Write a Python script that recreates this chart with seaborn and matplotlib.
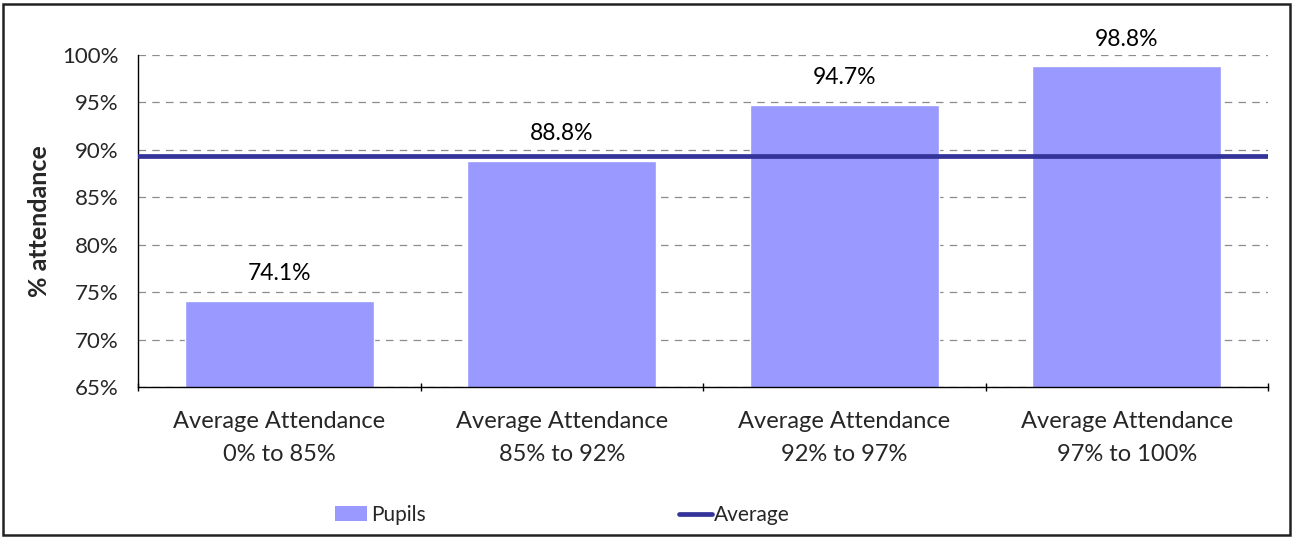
import matplotlib
matplotlib.use("Agg")
import matplotlib.pyplot as plt
import matplotlib.ticker as mticker
from matplotlib.lines import Line2D
from matplotlib.patches import Patch, Rectangle
import pandas as pd
import seaborn as sns

# data
categories = [
    "Average Attendance\n0% to 85%",
    "Average Attendance\n85% to 92%",
    "Average Attendance\n92% to 97%",
    "Average Attendance\n97% to 100%",
]
pupils = [74.1, 88.8, 94.7, 98.8]
average = 89.3
y_ticks = [65, 70, 75, 80, 85, 90, 95, 100]

bar_color = "#9999FF"
line_color = "#333399"

sns.set_theme(style="white")
plt.rcParams["font.family"] = ["Lato", "DejaVu Sans"]

df = pd.DataFrame({"category": categories, "pupils": pupils})

fig = plt.figure(figsize=(12.94, 5.38), dpi=100)
ax = fig.add_axes([138 / 1294, 1 - 387 / 538, (1268 - 138) / 1294, (387 - 55) / 538])

sns.barplot(data=df, x="category", y="pupils", color=bar_color, width=0.67,
            saturation=1, ax=ax, zorder=2)
ax.axhline(average, color=line_color, linewidth=3.4, zorder=3)

for i, v in enumerate(pupils):
    ax.text(i, v + 2.2, f"{v:.1f}%", ha="center", va="baseline", fontsize=16.5, color="black")

ax.set_ylim(65, 100)
ax.set_xlim(-0.5, len(categories) - 0.5)
ax.set_yticks(y_ticks)
ax.yaxis.set_major_formatter(mticker.FuncFormatter(lambda v, p: f"{v:.0f}%"))
ax.yaxis.grid(True, linestyle=(0, (6, 5)), color="#8c8c8c", linewidth=0.9)
ax.set_axisbelow(True)

# category boundary ticks on the x axis
ax.set_xticks([i for i in range(len(categories))])
ax.set_xticklabels(categories, fontsize=17, linespacing=1.75)
ax.set_xticks([i - 0.5 for i in range(len(categories) + 1)], minor=True)
ax.tick_params(axis="x", which="major", length=0, pad=17)
ax.tick_params(axis="x", which="minor", length=6, width=1, color="black",
               direction="inout", bottom=True)
ax.tick_params(axis="y", which="major", length=0, labelsize=16, pad=14)

for side in ["top", "right"]:
    ax.spines[side].set_visible(False)
for side in ["left", "bottom"]:
    ax.spines[side].set_color("black")
    ax.spines[side].set_linewidth(1)

ax.set_xlabel("")
ax.set_ylabel("% attendance", fontsize=18, fontweight="bold", labelpad=8)

fig.legend(handles=[Patch(facecolor=bar_color, edgecolor="none", label="Pupils")],
           loc="center left", bbox_to_anchor=(335 / 1294, 1 - 515 / 538),
           frameon=False, fontsize=15, handlelength=1.55, handleheight=0.75,
           handletextpad=0.2, borderpad=0, borderaxespad=0)
fig.legend(handles=[Line2D([0], [0], color=line_color, linewidth=3.4, label="Average")],
           loc="center left", bbox_to_anchor=(679 / 1294, 1 - 515 / 538),
           frameon=False, fontsize=15, handlelength=1.6, handletextpad=0.1,
           borderpad=0, borderaxespad=0)

# outer chart border
fig.patches.append(Rectangle((3 / 1294, 3 / 538), 1 - 7 / 1294, 1 - 7 / 538,
                             transform=fig.transFigure, fill=False,
                             edgecolor="#222222", linewidth=1.8))

fig.savefig("out.png", dpi=100)
